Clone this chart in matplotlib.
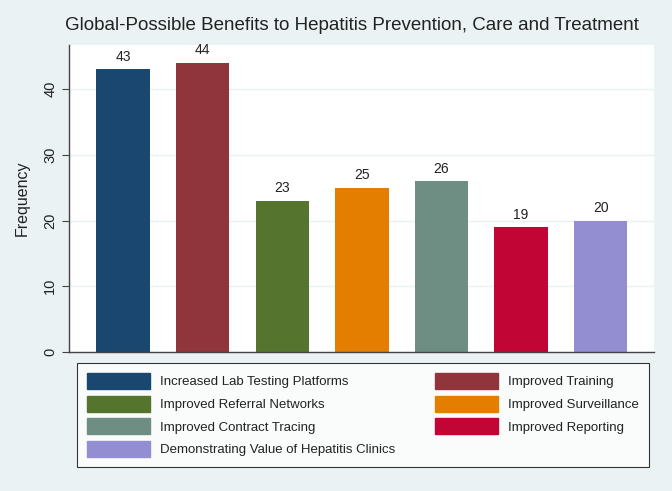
import matplotlib.pyplot as plt
from matplotlib.patches import Patch

plt.rcParams['font.family'] = ['Liberation Sans', 'DejaVu Sans']

# data
categories = ["Increased Lab Testing Platforms", "Improved Training",
              "Improved Referral Networks", "Improved Surveillance",
              "Improved Contract Tracing", "Improved Reporting",
              "Demonstrating Value of Hepatitis Clinics"]
counts = [43, 44, 23, 25, 26, 19, 20]
colors = ["#1A476F", "#90353B", "#55752F", "#E37E00",
          "#6E8E84", "#C10534", "#938DD2"]
yticks = [0, 10, 20, 30, 40]

bg = "#EAF2F3"
fig = plt.figure(figsize=(6.72, 4.91), dpi=100, facecolor=bg)
ax = fig.add_axes([69 / 672, 1 - 352 / 491, (654 - 69) / 672, (352 - 45) / 491])
ax.set_facecolor("white")

xs = range(len(counts))
ax.bar(xs, counts, width=0.67, color=colors, zorder=2)
for x, v in zip(xs, counts):
    ax.annotate(str(v), (x, v), xytext=(0, 4), textcoords="offset points",
                ha="center", va="bottom", fontsize=10, color="#222222",
                annotation_clip=False)

ax.set_xlim(-0.68, 6.67)
ax.set_ylim(0, 46.7)
ax.set_xticks([])
ax.set_yticks(yticks)
ax.set_yticklabels([str(t) for t in yticks], rotation=90, va="center",
                   fontsize=10.5, color="#222222")
ax.tick_params(axis="y", length=5, color="#444444")
ax.grid(axis="y", color=bg, linewidth=1, zorder=0)
ax.set_ylabel("Frequency", fontsize=11.5, color="#222222", labelpad=10)

for s in ["top", "right"]:
    ax.spines[s].set_visible(False)
for s in ["left", "bottom"]:
    ax.spines[s].set_color("#444444")
    ax.spines[s].set_linewidth(1)

fig.text(352 / 672, 1 - 25 / 491, "Global-Possible Benefits to Hepatitis Prevention, Care and Treatment",
         ha="center", va="center", fontsize=13.5, color="#222222")

# legend fills column by column, so reorder to get row-wise order
order = [0, 2, 4, 6, 1, 3, 5]
handles = [Patch(facecolor=colors[i], edgecolor=colors[i]) for i in order]
labels = [categories[i] for i in order]
leg = fig.legend(handles, labels, ncol=2,
                 bbox_to_anchor=(77 / 672, 1 - 363 / 491),
                 loc="upper left", fontsize=9.5, frameon=True, fancybox=False,
                 edgecolor="black", facecolor="white", handlelength=4.8,
                 handleheight=1.5, labelspacing=0.5, handletextpad=0.75,
                 columnspacing=3.0, borderaxespad=0, borderpad=0.75)
leg.get_frame().set_linewidth(0.8)
for t in leg.get_texts():
    t.set_color("#222222")

fig.savefig("out.png", dpi=100, facecolor=bg)
